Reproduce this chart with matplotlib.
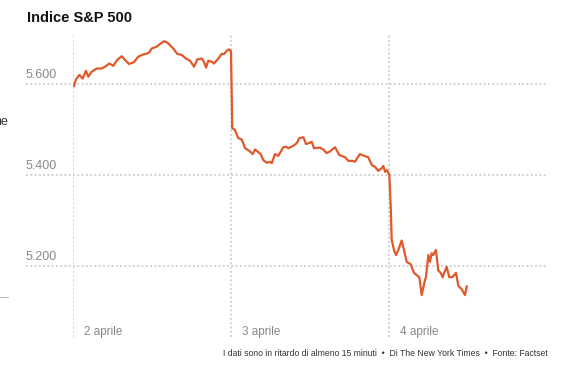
import matplotlib.pyplot as plt
from matplotlib.lines import Line2D

# time in trading days since open of 2 April, index value
t_day1 = [0.006, 0.019, 0.040, 0.061, 0.082, 0.097, 0.118, 0.150, 0.182, 0.203,
          0.230, 0.255, 0.280, 0.308, 0.329, 0.354, 0.386, 0.413, 0.445, 0.470,
          0.483, 0.498, 0.530, 0.551, 0.576, 0.597, 0.635, 0.660, 0.688, 0.715,
          0.741, 0.766, 0.787, 0.815, 0.829, 0.842, 0.856, 0.878, 0.892, 0.920,
          0.941, 0.956, 0.973, 0.987, 1.000]
v_day1 = [5596, 5610, 5620, 5612, 5629, 5616, 5627, 5634, 5634, 5638,
          5645, 5640, 5653, 5661, 5653, 5644, 5648, 5660, 5665, 5667,
          5670, 5678, 5682, 5688, 5694, 5691, 5678, 5666, 5664, 5656,
          5651, 5638, 5654, 5656, 5649, 5636, 5651, 5649, 5645, 5656,
          5666, 5666, 5673, 5676, 5672]

t_day2 = [1.008, 1.025, 1.046, 1.068, 1.089, 1.116, 1.137, 1.152, 1.188, 1.204,
          1.226, 1.247, 1.258, 1.278, 1.299, 1.331, 1.348, 1.363, 1.394, 1.416,
          1.432, 1.458, 1.475, 1.500, 1.511, 1.525, 1.563, 1.584, 1.606, 1.631,
          1.658, 1.686, 1.722, 1.743, 1.770, 1.785, 1.799, 1.816, 1.842, 1.869,
          1.891, 1.911, 1.932, 1.954, 1.964, 1.975, 1.986, 1.996, 2.002]
v_day2 = [5503, 5499, 5481, 5478, 5459, 5453, 5446, 5456, 5446, 5433,
          5427, 5429, 5426, 5446, 5442, 5461, 5462, 5459, 5464, 5470,
          5481, 5483, 5468, 5471, 5473, 5459, 5460, 5456, 5448, 5453,
          5461, 5444, 5439, 5431, 5431, 5429, 5437, 5446, 5442, 5439,
          5422, 5418, 5409, 5415, 5420, 5407, 5411, 5405, 5400]

t_day3 = [2.011, 2.017, 2.032, 2.044, 2.059, 2.080, 2.095, 2.112, 2.137, 2.158,
          2.175, 2.192, 2.207, 2.223, 2.234, 2.249, 2.259, 2.270, 2.280, 2.297,
          2.312, 2.327, 2.340, 2.348, 2.365, 2.382, 2.403, 2.424, 2.439, 2.460,
          2.481, 2.492]
v_day3 = [5330, 5257, 5235, 5224, 5235, 5256, 5235, 5209, 5204, 5185,
          5180, 5175, 5136, 5162, 5176, 5224, 5209, 5228, 5224, 5235,
          5190, 5185, 5175, 5184, 5198, 5175, 5176, 5185, 5156, 5149,
          5136, 5155]

y_ticks = [5200, 5400, 5600]
y_labels = ['5.200', '5.400', '5.600']
day_pos = [0, 1, 2]
day_labels = ['2 aprile', '3 aprile', '4 aprile']

t = t_day1 + t_day2 + t_day3
v = v_day1 + v_day2 + v_day3

plt.rcParams['font.family'] = ['Liberation Sans', 'DejaVu Sans']

fig = plt.figure(figsize=(5.61, 3.9), dpi=100)
ax = fig.add_axes([73/561, 1-337/390, 475/561, 302/390])
ax.set_xlim(0, 475/158)
ax.set_ylim(5043.9, 5707.7)
ax.axis('off')

grid = dict(color='#d2d2d2', linewidth=1.4, linestyle=(0, (1, 1.2)))
for y, lab in zip(y_ticks, y_labels):
    ax.axhline(y, xmin=-47/475, xmax=1, clip_on=False, **grid)
    ax.annotate(lab, xy=(-47/475, y), xycoords=ax.get_yaxis_transform(),
                xytext=(0, 2), textcoords='offset points', ha='left', va='bottom',
                fontsize=9, color='#888888', annotation_clip=False)
for d, lab in zip(day_pos, day_labels):
    ax.axvline(d, **grid)
    ax.text(d + 11/158, 0.0175, lab, transform=ax.get_xaxis_transform(),
            ha='left', va='center', fontsize=8.5, color='#888888')

ax.plot(t, v, color='#e0592b', linewidth=1.6, solid_joinstyle='round')

fig.text(27/561, 1-18/390, 'Indice S&P 500', fontsize=10.5, fontweight='bold',
         ha='left', va='center', color='#111111')
fig.text(548/561, 1-354/390,
         'I dati sono in ritardo di almeno 15 minuti  \u2022  Di The New York Times  \u2022  Fonte: Factset',
         fontsize=6.2, ha='right', va='center', color='#333333')

# cut-off pieces at the left edge, as in the original page
fig.text(8/561, 1-122/390, 'ne', fontsize=9, ha='right', va='center', color='#333333')
fig.add_artist(Line2D([0, 8/561], [1-297/390, 1-297/390], color='#bbbbbb', linewidth=0.8))

fig.savefig('out.png', dpi=100)
